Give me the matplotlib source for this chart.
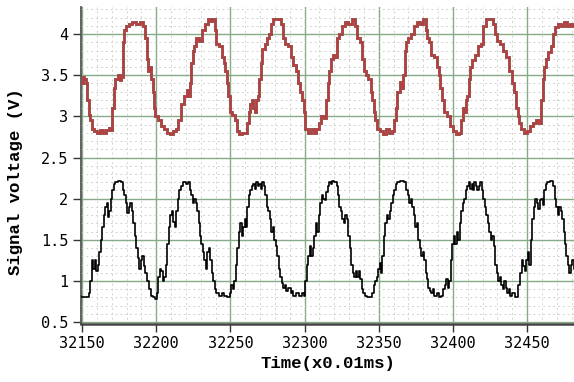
import matplotlib
matplotlib.use("Agg")
import matplotlib.pyplot as plt
from matplotlib.ticker import MultipleLocator

# ---- data ----
upper_t = [32148, 32150, 32151, 32152, 32153, 32154, 32155, 32156, 32157, 32159, 32161, 32163, 32165, 32167, 32169, 32170,
           32171, 32172, 32173, 32175, 32176, 32177, 32178, 32179, 32180, 32183, 32185, 32188, 32190, 32192, 32193, 32194,
           32195, 32196, 32197, 32198, 32199, 32200, 32202, 32204, 32206, 32208, 32210, 32212, 32214, 32216, 32218, 32220,
           32221, 32222, 32223, 32224, 32225, 32226, 32228, 32230, 32232, 32234, 32236, 32238, 32239, 32240, 32241, 32243,
           32245, 32246, 32247, 32248, 32249, 32250, 32252, 32254, 32255, 32257, 32259, 32261, 32262, 32263, 32264, 32265,
           32266, 32267, 32268, 32269, 32270, 32271, 32272, 32274, 32275, 32277, 32278, 32280, 32283, 32285, 32286, 32288,
           32290, 32291, 32293, 32295, 32296, 32298, 32299, 32300, 32301, 32303, 32305, 32307, 32309, 32310, 32312, 32314,
           32315, 32316, 32317, 32318, 32320, 32321, 32322, 32324, 32326, 32328, 32331, 32333, 32335, 32336, 32338, 32339,
           32341, 32342, 32344, 32345, 32346, 32347, 32348, 32350, 32352, 32354, 32356, 32358, 32360, 32361, 32362, 32363,
           32365, 32366, 32367, 32368, 32369, 32371, 32373, 32375, 32377, 32379, 32381, 32382, 32383, 32385, 32386, 32388,
           32390, 32391, 32392, 32393, 32395, 32397, 32399, 32401, 32403, 32405, 32406, 32407, 32408, 32409, 32410, 32411,
           32412, 32414, 32416, 32418, 32420, 32421, 32423, 32426, 32428, 32429, 32431, 32433, 32435, 32437, 32439, 32440,
           32442, 32443, 32444, 32445, 32447, 32449, 32451, 32453, 32455, 32457, 32459, 32460, 32461, 32462, 32463, 32465,
           32467, 32468, 32470, 32472, 32474, 32476, 32478, 32480, 32482]
upper_v = [3.42, 3.40, 3.48, 3.45, 3.40, 3.20, 3.02, 2.95, 2.85, 2.82, 2.80, 2.84, 2.80, 2.83, 2.86, 2.84,
           3.10, 3.35, 3.45, 3.50, 3.44, 3.48, 3.90, 4.05, 4.10, 4.12, 4.15, 4.12, 4.15, 4.10, 3.95, 3.70,
           3.55, 3.60, 3.45, 3.30, 3.10, 3.00, 2.95, 2.88, 2.85, 2.80, 2.78, 2.82, 2.85, 2.95, 3.15, 3.25,
           3.32, 3.25, 3.40, 3.65, 3.80, 3.85, 3.95, 3.92, 4.05, 4.12, 4.18, 4.16, 4.18, 4.05, 3.88, 3.85,
           3.72, 3.65, 3.55, 3.40, 3.25, 3.05, 3.02, 2.95, 2.82, 2.78, 2.80, 2.80, 2.92, 3.05, 3.15, 3.20,
           3.10, 3.05, 3.20, 3.25, 3.45, 3.65, 3.82, 3.88, 3.95, 4.00, 4.12, 4.18, 4.18, 4.12, 3.95, 3.88,
           3.85, 3.72, 3.62, 3.55, 3.40, 3.30, 3.20, 3.05, 2.85, 2.80, 2.85, 2.80, 2.85, 2.92, 3.00, 2.98,
           3.20, 3.40, 3.55, 3.70, 3.75, 3.72, 3.95, 4.00, 4.10, 4.15, 4.12, 4.18, 4.10, 3.95, 3.90, 3.70,
           3.55, 3.50, 3.45, 3.30, 3.20, 3.05, 2.95, 2.85, 2.82, 2.78, 2.85, 2.80, 2.82, 2.95, 3.10, 3.30,
           3.42, 3.35, 3.50, 3.80, 3.90, 3.95, 4.00, 4.10, 4.15, 4.12, 4.18, 4.05, 3.95, 3.90, 3.75, 3.72,
           3.60, 3.50, 3.35, 3.20, 3.05, 3.00, 2.88, 2.82, 2.78, 2.80, 2.95, 3.10, 3.05, 3.20, 3.25, 3.45,
           3.60, 3.68, 3.75, 3.85, 3.88, 4.10, 4.18, 4.18, 4.12, 4.00, 3.92, 3.88, 3.80, 3.72, 3.55, 3.40,
           3.30, 3.10, 3.00, 2.92, 2.85, 2.80, 2.82, 2.88, 2.92, 2.95, 2.92, 3.20, 3.45, 3.60, 3.70, 3.78,
           3.85, 4.00, 4.08, 4.12, 4.10, 4.15, 4.10, 4.12, 4.10]

lower_t = [32148, 32150, 32152, 32154, 32155, 32156, 32157, 32158, 32159, 32160, 32161, 32162, 32163, 32164, 32165, 32166,
           32167, 32168, 32169, 32170, 32171, 32172, 32173, 32175, 32177, 32178, 32179, 32180, 32181, 32182, 32183, 32184,
           32185, 32186, 32187, 32188, 32189, 32190, 32191, 32192, 32193, 32194, 32196, 32197, 32199, 32200, 32201, 32202,
           32203, 32204, 32205, 32206, 32207, 32208, 32209, 32210, 32211, 32212, 32213, 32214, 32215, 32216, 32217, 32219,
           32221, 32222, 32223, 32224, 32225, 32226, 32227, 32228, 32229, 32230, 32231, 32232, 32233, 32234, 32235, 32236,
           32237, 32238, 32239, 32240, 32241, 32243, 32245, 32247, 32249, 32250, 32251, 32252, 32253, 32254, 32255, 32256,
           32257, 32258, 32259, 32260, 32261, 32262, 32263, 32264, 32265, 32266, 32267, 32268, 32269, 32270, 32271, 32272,
           32273, 32274, 32275, 32276, 32277, 32278, 32279, 32280, 32281, 32282, 32283, 32284, 32285, 32286, 32287, 32288,
           32290, 32291, 32292, 32293, 32295, 32297, 32299, 32300, 32301, 32302, 32303, 32304, 32305, 32306, 32307, 32308,
           32309, 32310, 32311, 32312, 32313, 32314, 32315, 32316, 32317, 32318, 32319, 32321, 32322, 32323, 32324, 32325,
           32326, 32327, 32328, 32329, 32330, 32331, 32332, 32333, 32334, 32335, 32336, 32337, 32338, 32339, 32340, 32341,
           32343, 32345, 32346, 32347, 32348, 32349, 32350, 32351, 32352, 32353, 32354, 32355, 32356, 32357, 32358, 32359,
           32360, 32361, 32362, 32363, 32366, 32368, 32369, 32370, 32371, 32372, 32373, 32374, 32375, 32376, 32377, 32378,
           32379, 32380, 32381, 32382, 32383, 32384, 32385, 32386, 32387, 32388, 32390, 32391, 32393, 32394, 32395, 32396,
           32397, 32398, 32399, 32400, 32401, 32402, 32403, 32404, 32405, 32406, 32407, 32408, 32409, 32410, 32411, 32412,
           32413, 32414, 32415, 32416, 32417, 32418, 32419, 32420, 32421, 32422, 32423, 32424, 32425, 32426, 32427, 32428,
           32429, 32430, 32431, 32432, 32433, 32434, 32435, 32436, 32437, 32438, 32439, 32441, 32443, 32445, 32446, 32447,
           32448, 32449, 32450, 32451, 32452, 32453, 32454, 32455, 32456, 32457, 32458, 32459, 32460, 32461, 32462, 32463,
           32464, 32467, 32468, 32469, 32470, 32471, 32472, 32473, 32474, 32475, 32476, 32477, 32478, 32479, 32480, 32481,
           32482]
lower_v = [0.82, 0.80, 0.80, 0.80, 0.85, 1.00, 1.25, 1.15, 1.25, 1.12, 1.20, 1.35, 1.50, 1.65, 1.80, 1.90,
           1.95, 1.78, 1.85, 2.00, 2.10, 2.18, 2.20, 2.21, 2.20, 2.10, 2.05, 1.95, 1.82, 1.90, 1.95, 1.85,
           1.70, 1.55, 1.40, 1.28, 1.15, 1.25, 1.30, 1.18, 1.10, 1.00, 0.90, 0.82, 0.80, 0.78, 0.85, 1.05,
           1.15, 1.12, 1.00, 1.05, 1.20, 1.45, 1.65, 1.80, 1.85, 1.72, 1.65, 1.85, 2.00, 2.10, 2.15, 2.20,
           2.18, 2.20, 2.10, 2.05, 1.95, 2.00, 1.95, 1.85, 1.70, 1.55, 1.45, 1.35, 1.25, 1.15, 1.35, 1.40,
           1.25, 1.10, 1.00, 0.90, 0.85, 0.82, 0.85, 0.82, 0.80, 0.85, 0.95, 0.90, 1.00, 1.20, 1.40, 1.60,
           1.70, 1.55, 1.65, 1.75, 1.65, 1.90, 2.05, 2.10, 2.15, 2.18, 2.12, 2.20, 2.15, 2.18, 2.12, 2.20,
           2.15, 2.05, 1.90, 1.85, 1.75, 1.60, 1.65, 1.50, 1.42, 1.30, 1.15, 1.05, 0.98, 0.92, 0.95, 0.88,
           0.92, 0.85, 0.88, 0.82, 0.85, 0.82, 0.85, 0.82, 1.00, 1.20, 1.30, 1.42, 1.30, 1.40, 1.55, 1.70,
           1.60, 1.80, 1.95, 2.05, 2.00, 1.98, 2.08, 2.15, 2.20, 2.18, 2.21, 2.20, 2.15, 2.05, 1.90, 1.85,
           1.75, 1.70, 1.80, 1.75, 1.55, 1.40, 1.20, 1.10, 1.05, 1.12, 1.05, 1.12, 1.02, 0.90, 0.85, 0.82,
           0.80, 0.80, 0.85, 0.95, 1.00, 1.05, 1.15, 1.22, 1.10, 1.30, 1.55, 1.70, 1.80, 1.75, 1.85, 1.95,
           2.05, 2.10, 2.18, 2.20, 2.21, 2.20, 2.10, 2.05, 1.95, 2.00, 1.90, 1.80, 1.65, 1.70, 1.50, 1.40,
           1.30, 1.35, 1.25, 1.10, 1.02, 0.92, 0.88, 0.85, 0.90, 0.82, 0.85, 0.80, 0.82, 0.90, 0.95, 1.02,
           0.92, 1.00, 1.25, 1.45, 1.55, 1.45, 1.60, 1.50, 1.70, 1.85, 1.95, 2.00, 2.10, 2.15, 2.20, 2.12,
           2.18, 2.10, 2.20, 2.15, 2.10, 2.15, 2.20, 2.10, 2.00, 1.90, 1.80, 1.70, 1.60, 1.50, 1.55, 1.42,
           1.20, 1.10, 1.00, 1.05, 0.95, 0.90, 1.00, 0.92, 0.85, 0.90, 0.82, 0.85, 0.80, 0.95, 1.10, 1.25,
           1.18, 1.12, 1.25, 1.35, 1.20, 1.50, 1.75, 1.90, 2.00, 1.95, 1.88, 1.98, 2.00, 1.92, 2.10, 2.18,
           2.20, 2.21, 2.15, 2.00, 1.90, 1.80, 1.90, 1.85, 1.75, 1.60, 1.45, 1.30, 1.20, 1.10, 1.20, 1.25,
           1.15]

x_ticks = [32150, 32200, 32250, 32300, 32350, 32400, 32450]
y_ticks = [0.5, 1, 1.5, 2, 2.5, 3, 3.5, 4]
y_tick_labels = ["0.5", "1", "1.5", "2", "2.5", "3", "3.5", "4"]

# ---- figure ----
fig = plt.figure(figsize=(5.74, 3.82), dpi=100)
ax = fig.add_axes([0.1411, 0.152, 0.859, 0.830])

ax.plot(upper_t, upper_v, color="#9c4d47", lw=2.1, drawstyle="steps-mid",
        solid_joinstyle="miter", zorder=3)
ax.plot(upper_t, upper_v, color="#dc2a3a", lw=0.7, alpha=0.55, drawstyle="steps-mid", zorder=4)
ax.plot(lower_t, lower_v, color="black", lw=1.2, drawstyle="steps-mid", zorder=3)

ax.set_xlim(32149.3, 32481.6)
ax.set_ylim(0.478, 4.33)

ax.set_xticks(x_ticks)
ax.set_xticklabels([str(v) for v in x_ticks])
ax.set_yticks(y_ticks)
ax.set_yticklabels(y_tick_labels)
ax.xaxis.set_minor_locator(MultipleLocator(10))
ax.yaxis.set_minor_locator(MultipleLocator(0.1))

ax.grid(which="major", color="#86ab86", lw=1.0, ls="-", zorder=1)
ax.grid(which="minor", color="#d2d2d2", lw=0.7, ls=(0, (2, 3)), zorder=0)

for s in ["top", "right"]:
    ax.spines[s].set_visible(False)
ax.spines["left"].set_color("#555555")
ax.spines["left"].set_linewidth(1.3)
ax.spines["bottom"].set_color("#444444")
ax.spines["bottom"].set_linewidth(1.8)

ax.tick_params(axis="both", which="major", direction="out", length=6, width=1.0,
               color="#333333", labelsize=11)
ax.tick_params(axis="both", which="minor", length=0)
ax.tick_params(axis="y", pad=3)
ax.tick_params(axis="x", pad=3)
for lab in ax.get_xticklabels() + ax.get_yticklabels():
    lab.set_family("DejaVu Sans Mono")

ax.set_xlabel("Time(x0.01ms)", family="Liberation Mono", fontsize=12.5,
              fontweight="bold", labelpad=3)
ax.set_ylabel("Signal voltage (V)", family="Liberation Mono", fontsize=12.5,
              fontweight="bold", labelpad=4)
ax.yaxis.set_label_coords(-0.117, 0.45)

fig.savefig("out.png", dpi=100)
